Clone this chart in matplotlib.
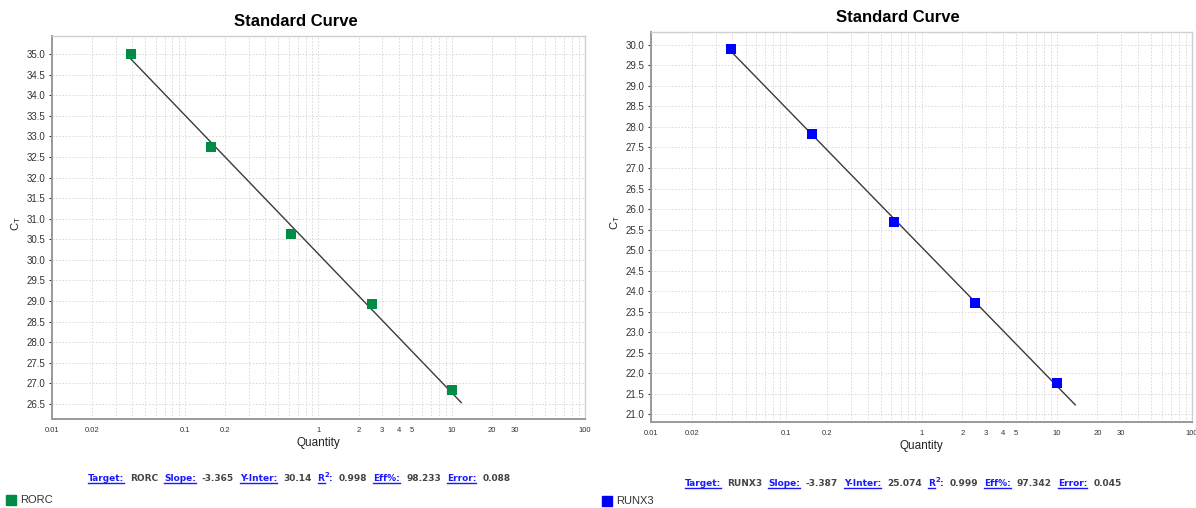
import matplotlib
matplotlib.use('Agg')
import matplotlib.pyplot as plt
import numpy as np
from matplotlib.transforms import IdentityTransform
from matplotlib.lines import Line2D

plt.rcParams['font.family'] = ['Liberation Sans', 'DejaVu Sans']

# data
quantity = [10, 2.5, 0.625, 0.15625, 0.0390625]
rorc_ct = [26.84, 28.93, 30.63, 32.74, 35.0]
runx3_ct = [21.76, 23.71, 25.68, 27.83, 29.9]

targets = ['RORC', 'RUNX3']
slopes = [-3.365, -3.387]
y_inters = [30.14, 25.074]
r2 = [0.998, 0.999]
eff = [98.233, 97.342]
errors = [0.088, 0.045]
fit_qmax = [11.8, 13.7]

xtick_vals = [0.01, 0.02, 0.1, 0.2, 1, 2, 3, 4, 5, 10, 20, 30, 100]
xtick_labels = ['0.01', '0.02', '0.1', '0.2', '1', '2', '3', '4', '5', '10', '20', '30', '100']

colors = ['#008c44', '#0000ff']
link_blue = '#1a1aff'
val_gray = '#444444'

fig = plt.figure(figsize=(11.96, 5.08), dpi=100)
W, H = 1196, 508

# axes boxes in pixels: left, top, right, bottom
boxes = [(52, 36, 585, 419), (651, 32, 1192, 422)]
ylims = [(26.136, 35.437), (20.805, 30.317)]
title_pos = [(296, 22), (898, 18)]
stats_pos = [(299, 481), (903, 486)]
ylabel_x = [16, 615]
legend_pos = [(6, 495), (602, 496)]
cts = [rorc_ct, runx3_ct]


def draw_stats(cx, cy, parts):
    r = fig.canvas.get_renderer()
    items = []
    total = 0
    for txt, col, ul, fs, dy, gap in parts:
        t = fig.text(0, 0, txt, color=col, fontsize=fs, fontweight='bold',
                     transform=IdentityTransform(), va='baseline', ha='left',
                     family='DejaVu Sans')
        w = t.get_window_extent(r).width
        items.append((t, w, ul, dy, gap))
        total += w + gap
    x = cx - total / 2
    yb = H - cy
    for t, w, ul, dy, gap in items:
        t.set_position((x, yb + dy))
        if ul:
            fig.add_artist(Line2D([x, x + w], [yb - 2, yb - 2], color=link_blue,
                                  linewidth=1.0, transform=IdentityTransform()))
        x += w + gap


for i in range(2):
    l, t, rgt, b = boxes[i]
    ax = fig.add_axes([l / W, (H - b) / H, (rgt - l) / W, (b - t) / H])
    ax.set_xscale('log')
    ax.set_xlim(0.01, 100)
    ax.set_ylim(*ylims[i])

    ax.set_xticks(xtick_vals)
    ax.set_xticklabels(xtick_labels)
    ax.xaxis.set_minor_locator(matplotlib.ticker.LogLocator(base=10, subs=np.arange(2, 10)))
    ax.xaxis.set_minor_formatter(matplotlib.ticker.NullFormatter())
    ax.yaxis.set_major_locator(matplotlib.ticker.MultipleLocator(0.5))
    ax.yaxis.set_major_formatter(matplotlib.ticker.FormatStrFormatter('%.1f'))

    ax.grid(True, which='both', axis='x', color='#d6d6d6', linestyle=(0, (2, 2)), linewidth=0.6)
    ax.grid(True, which='major', axis='y', color='#d6d6d6', linestyle=(0, (2, 2)), linewidth=0.6)
    ax.set_axisbelow(True)

    ax.tick_params(axis='x', which='both', length=0, labelsize=5.5, pad=6, colors='#333333')
    ax.tick_params(axis='y', which='major', length=2, labelsize=7, pad=3, colors='#333333')

    for side in ['left', 'bottom']:
        ax.spines[side].set_color('#9a9a9a')
        ax.spines[side].set_linewidth(1.4)
    for side in ['top', 'right']:
        ax.spines[side].set_color('#cfcfcf')
        ax.spines[side].set_linewidth(1.0)

    # fit line from the reported slope and intercept
    q_line = np.array([min(quantity), fit_qmax[i]])
    ax.plot(q_line, y_inters[i] + slopes[i] * np.log10(q_line), color='#3a3a3a', linewidth=1.0, zorder=2)
    ax.plot(quantity, cts[i], linestyle='none', marker='s', markersize=6.8,
            color=colors[i], markeredgewidth=0, zorder=3)

    ax.set_xlabel('Quantity', fontsize=8.5, labelpad=2, color='#222222')

    fig.text(ylabel_x[i] / W, 1 - ((t + b) / 2 - 4) / H, r'C$\mathregular{_T}$', rotation=90,
             fontsize=8, ha='center', va='center', color='#222222')
    fig.text(title_pos[i][0] / W, 1 - title_pos[i][1] / H, 'Standard Curve',
             fontsize=12, fontweight='bold', ha='center', va='center')

    # legend square + name
    lx, ly = legend_pos[i]
    fig.patches.append(matplotlib.patches.Rectangle((lx, H - ly - 10), 10, 10, color=colors[i],
                                                    transform=IdentityTransform()))
    fig.text(lx + 14, H - ly - 5, targets[i], fontsize=8, va='center', ha='left', color='#333333',
             transform=IdentityTransform())

    parts = [
        ('Target:', link_blue, True, 6.5, 0, 6),
        (targets[i], val_gray, False, 6.5, 0, 6),
        ('Slope:', link_blue, True, 6.5, 0, 6),
        ('%.3f' % slopes[i], val_gray, False, 6.5, 0, 6),
        ('Y-Inter:', link_blue, True, 6.5, 0, 6),
        ('%g' % y_inters[i], val_gray, False, 6.5, 0, 6),
        ('R', link_blue, True, 6.5, 0, 0),
        ('2', link_blue, False, 5, 4, 0),
        (':', link_blue, False, 6.5, 0, 6),
        ('%.3f' % r2[i], val_gray, False, 6.5, 0, 6),
        ('Eff%:', link_blue, True, 6.5, 0, 6),
        ('%.3f' % eff[i], val_gray, False, 6.5, 0, 6),
        ('Error:', link_blue, True, 6.5, 0, 6),
        ('%.3f' % errors[i], val_gray, False, 6.5, 0, 0),
    ]
    draw_stats(stats_pos[i][0], stats_pos[i][1], parts)

fig.savefig('out.png', dpi=100)
